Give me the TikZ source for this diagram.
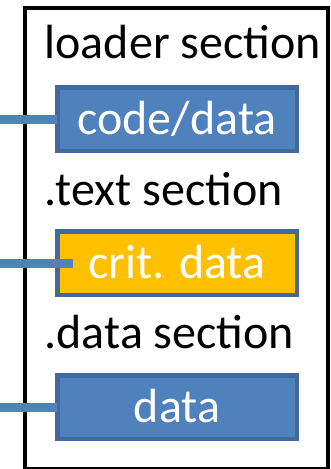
\documentclass[tikz,border=0pt]{standalone}
\usepackage{fontspec}
\setmainfont{Carlito}
\definecolor{boxfill}{HTML}{4F81BD}
\definecolor{boxedge}{HTML}{41699C}
\definecolor{critfill}{HTML}{FFC000}
\begin{document}
\begin{tikzpicture}[x=1pt,y=-1pt,
  bigfont/.style={font=\fontsize{48}{57}\selectfont},
  seclabel/.style={bigfont,anchor=base west,inner sep=0pt,text=black},
  membox/.style={draw=boxedge,line width=4.5pt,fill=boxfill,text=white,bigfont,
    minimum width=239.5pt,minimum height=63.5pt,inner sep=0pt,outer sep=0pt,
    text height=31pt,text depth=0pt},
  link/.style={draw=boxfill,line width=9pt}]
  \useasboundingbox (0,0) rectangle (331,469);
  \begin{scope}
    \clip (0,0) rectangle (331,469);
    % outer frame of the image
    \draw[line width=4pt,black] (25,8) rectangle (327.5,468.5);
  \end{scope}

  % section headings
  \node[seclabel] (h1) at (44.5,58) {loader section};
  \node[seclabel] (h2) at (44.5,205) {.text section};
  \node[seclabel] (h3) at (44.5,348) {.data section};

  % section contents
  \node[membox] (b1) at (177,119) {code/data};
  \node[membox,fill=critfill] (b2) at (177,263) {crit. data};
  \node[membox] (b3) at (177,407) {data};

  % incoming references
  \coordinate (r1) at (0,119);
  \coordinate (r2) at (0,263);
  \coordinate (r3) at (0,407);
  \draw[link] (r1) -- (b1.west);
  \draw[link] (r2) -- ([xshift=16pt]b2.west);
  \draw[link] (r3) -- (b3.west);
\end{tikzpicture}
\end{document}
